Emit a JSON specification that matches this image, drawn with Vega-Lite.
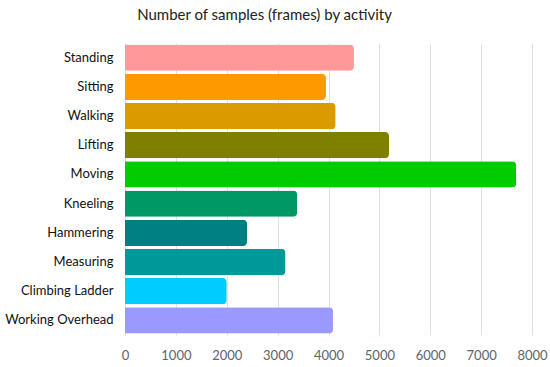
{
  "$schema": "https://vega.github.io/schema/vega-lite/v6.json",
  "autosize": {"type": "none"},
  "width": 407,
  "height": 292,
  "padding": {"left": 125, "top": 43, "right": 18, "bottom": 32},
  "background": "white",
  "title": {
    "text": "Number of samples (frames) by activity",
    "font": "Lato",
    "fontSize": 15,
    "fontWeight": "normal",
    "color": "#222222",
    "anchor": "middle",
    "offset": 20,
    "dx": -64
  },
  "data": {
    "values": [
      {"activity": "Standing", "frames": 4500, "color": "#FF9999"},
      {"activity": "Sitting", "frames": 3950, "color": "#FF9900"},
      {"activity": "Walking", "frames": 4140, "color": "#DB9A00"},
      {"activity": "Lifting", "frames": 5190, "color": "#808000"},
      {"activity": "Moving", "frames": 7690, "color": "#00CC00"},
      {"activity": "Kneeling", "frames": 3385, "color": "#009966"},
      {"activity": "Hammering", "frames": 2400, "color": "#008080"},
      {"activity": "Measuring", "frames": 3155, "color": "#009999"},
      {"activity": "Climbing Ladder", "frames": 2000, "color": "#00CCFF"},
      {"activity": "Working Overhead", "frames": 4090, "color": "#9999FF"}
    ]
  },
  "mark": {"type": "bar", "cornerRadiusEnd": 4},
  "encoding": {
    "y": {
      "field": "activity",
      "type": "nominal",
      "sort": null,
      "scale": {"paddingInner": 0.1, "paddingOuter": 0.05},
      "axis": {
        "title": null,
        "domain": false,
        "ticks": false,
        "labelFont": "Lato",
        "labelFontSize": 13,
        "labelColor": "#111111",
        "labelPadding": 12
      }
    },
    "x": {
      "field": "frames",
      "type": "quantitative",
      "scale": {"domain": [0, 8000], "nice": false},
      "axis": {
        "title": null,
        "values": [0, 1000, 2000, 3000, 4000, 5000, 6000, 7000, 8000],
        "format": "d",
        "domain": false,
        "ticks": false,
        "grid": true,
        "gridColor": "#DDE1E6",
        "labelFont": "Lato",
        "labelFontSize": 13,
        "labelColor": "#5A6370",
        "labelPadding": 14,
        "labelFlush": false
      }
    },
    "color": {"field": "color", "type": "nominal", "scale": null, "legend": null}
  },
  "config": {"view": {"stroke": null}}
}
